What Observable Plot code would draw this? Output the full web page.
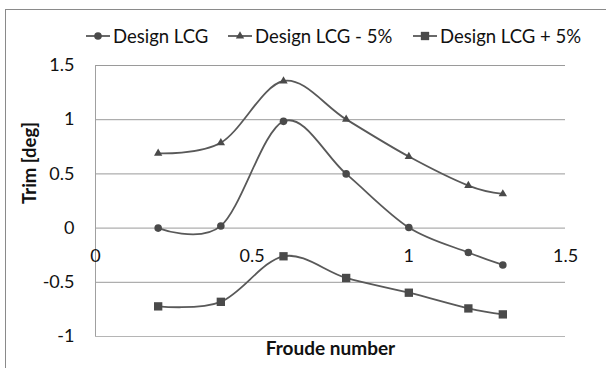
<!DOCTYPE html>
<html>
<head>
<meta charset="utf-8">
<script src="https://cdn.jsdelivr.net/npm/d3@7"></script>
<script src="https://cdn.jsdelivr.net/npm/@observablehq/plot@0.6"></script>
<style>
  html, body { margin: 0; padding: 0; background: #fff; }
  #wrap { position: relative; width: 606px; height: 368px; overflow: hidden; font-family: Lato, "Open Sans", sans-serif; }
  #frame { position: absolute; left: 5px; top: 9px; width: 700px; height: 500px; border-top: 1px solid #8a8a8a; border-left: 1px solid #8a8a8a; }
  #legend { position: absolute; left: 0; top: 22px; width: 606px; height: 28px; }
  .item { position: absolute; top: 0; height: 28px; display: flex; align-items: center; font-size: 18.5px; color: #111; white-space: pre; }
  .item svg { margin-right: 3px; }
  #chart { position: absolute; left: 0; top: 0; }
</style>
</head>
<body>
<div id="wrap">
  <div id="frame"></div>
  <div id="chart"></div>
  <div id="legend"></div>
</div>
<script>
// ---- data ----
const froude = [0.2, 0.4, 0.6, 0.8, 1.0, 1.19, 1.3];
const trimDesign = [0.0, 0.02, 0.985, 0.5, 0.005, -0.225, -0.34];
const trimMinus5 = [0.69, 0.787, 1.357, 1.003, 0.66, 0.392, 0.315];
const trimPlus5 = [-0.722, -0.68, -0.26, -0.46, -0.596, -0.741, -0.796];
const seriesNames = ["Design LCG", "Design LCG - 5%", "Design LCG + 5%"];
const seriesSymbols = ["circle", "triangle", "square"];
const xTicks = [0, 0.5, 1, 1.5];
const yTicks = [-1, -0.5, 0, 0.5, 1, 1.5];
const xCross = 0;

const rows = [];
[trimDesign, trimMinus5, trimPlus5].forEach((vals, s) => {
  vals.forEach((v, i) => rows.push({series: seriesNames[s], symbol: seriesSymbols[s], x: froude[i], y: v}));
});

const lineColor = "#595959";
const markColor = "#4a4a4a";
const gridColor = "#9a9a9a";
const fontFam = "Lato, 'Open Sans', sans-serif";

const bySeries = s => rows.filter(d => d.series === s);

const marks = [
  Plot.ruleY(yTicks.filter(d => d !== -1), {stroke: gridColor, strokeWidth: 1}),
  Plot.ruleY([-1], {stroke: "#b5b5b5", strokeWidth: 1.2}),
  Plot.ruleX([0], {stroke: "#a0a0a0", strokeWidth: 1}),
  Plot.axisY({ticks: yTicks, tickSize: 0, tickPadding: 21, tickFormat: d => String(d), fontSize: 18, label: null, fill: "#111"}),
  Plot.text(xTicks, {x: d => d, y: () => xCross, dy: 28, text: d => String(d), fontSize: 18, fill: "#111"}),
  Plot.text(["Trim [deg]"], {frameAnchor: "left", dx: -65, dy: 3, rotate: -90, fontSize: 18.5, fontWeight: "bold", fill: "#111"}),
  Plot.text(["Froude number"], {frameAnchor: "bottom", dy: 18, fontSize: 19, fontWeight: "bold", fill: "#111"})
];
seriesNames.forEach((s, k) => {
  marks.push(Plot.line(bySeries(s), {x: "x", y: "y", curve: "cardinal", stroke: lineColor, strokeWidth: 1.8}));
});
const symR = {circle: 3.8, triangle: 3.1, square: 4.7};
seriesNames.forEach((s, k) => {
  marks.push(Plot.dot(bySeries(s), {x: "x", y: "y", symbol: () => seriesSymbols[k], r: symR[seriesSymbols[k]], fill: markColor, stroke: "none"}));
});

const chart = Plot.plot({
  width: 606,
  height: 368,
  marginLeft: 95,
  marginRight: 41,
  marginTop: 65,
  marginBottom: 32,
  style: {fontFamily: fontFam, background: "transparent", color: "#111", overflow: "visible"},
  x: {domain: [0, 1.5], axis: null},
  y: {domain: [-1, 1.5], axis: null},
  symbol: {type: "identity"},
  marks
});
document.getElementById("chart").appendChild(chart);

// ---- legend (HTML) ----
const legendLeft = [86, 228, 413];
const legend = document.getElementById("legend");
seriesNames.forEach((s, k) => {
  const item = document.createElement("div");
  item.className = "item";
  item.style.left = legendLeft[k] + "px";
  const sym = d3.symbol().type(
    seriesSymbols[k] === "circle" ? d3.symbolCircle : seriesSymbols[k] === "triangle" ? d3.symbolTriangle : d3.symbolSquare
  ).size(Math.PI * symR[seriesSymbols[k]] ** 2)();
  item.innerHTML = `<svg width="24" height="14" viewBox="0 0 24 14"><line x1="0" x2="24" y1="7" y2="7" stroke="${lineColor}" stroke-width="1.8"/><path transform="translate(12,7)" d="${sym}" fill="${markColor}"/></svg>` +
    `<span>${s}</span>`;
  legend.appendChild(item);
});
</script>
</body>
</html>
